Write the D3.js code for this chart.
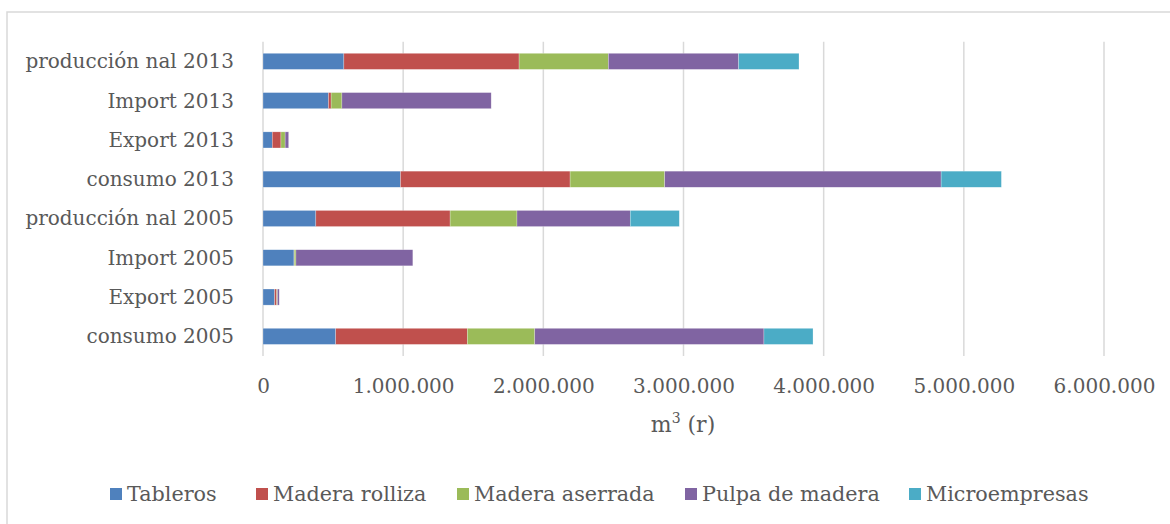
<!DOCTYPE html>
<html><head><meta charset="utf-8">
<script src="https://cdn.jsdelivr.net/npm/d3@7"></script>
<style>html,body{margin:0;padding:0;background:#fff;}svg{display:block;}</style>
</head><body>
<script>
const categories = ["producción nal 2013","Import 2013","Export 2013","consumo 2013","producción nal 2005","Import 2005","Export 2005","consumo 2005"];
const seriesNames = ["Tableros","Madera rolliza","Madera aserrada","Pulpa de madera","Microempresas"];
const tableros      = [577000, 467000, 66000, 981000, 377000, 221000, 83000, 519000];
const maderaRolliza = [1250000, 19000, 62000, 1210000, 958000, 2000, 15000, 939000];
const maderaAserrada= [637000, 77000, 30000, 675000, 477000, 12000, 5000, 481000];
const pulpaMadera   = [929000, 1065000, 25000, 1972000, 808000, 834000, 13000, 1635000];
const microempresas = [431000, 0, 0, 430000, 350000, 0, 0, 350000];
const xTicks = [0,1000000,2000000,3000000,4000000,5000000,6000000];
const colors = ["#4F81BD","#C0504D","#9BBB59","#8064A2","#4BACC6"];

const W=1170,H=524;
const font = "'DejaVu Serif', serif";
const txt = "#595959";
const svg = d3.select("body").append("svg").attr("width",W).attr("height",H);

svg.append("rect").attr("x",7).attr("y",12).attr("width",W+20).attr("height",H+20)
  .attr("fill","none").attr("stroke","#d9d9d9").attr("stroke-width",1.5);

const x = d3.scaleLinear().domain([0,6000000]).range([263,1104]);
const y = d3.scaleBand().domain(categories).range([41.7,356]).paddingInner(0.59).paddingOuter(0.295);

svg.append("g").selectAll("line").data(xTicks).join("line")
  .attr("x1",d=>x(d)).attr("x2",d=>x(d)).attr("y1",41.7).attr("y2",356)
  .attr("stroke","#d9d9d9").attr("stroke-width",1.5);

const data = categories.map((c,i)=>({cat:c,"Tableros":tableros[i],"Madera rolliza":maderaRolliza[i],"Madera aserrada":maderaAserrada[i],"Pulpa de madera":pulpaMadera[i],"Microempresas":microempresas[i]}));
const stacked = d3.stack().keys(seriesNames)(data);

svg.append("g").selectAll("g").data(stacked).join("g")
  .attr("fill",(d,i)=>colors[i])
  .selectAll("rect").data(d=>d).join("rect")
  .attr("x",d=>x(d[0])).attr("width",d=>Math.max(0,x(d[1])-x(d[0])))
  .attr("y",d=>y(d.data.cat)).attr("height",y.bandwidth())
  .attr("stroke","rgba(255,255,255,0.5)").attr("stroke-width",0.5);

const fs = 20;
svg.append("g").selectAll("text").data(categories).join("text")
  .attr("x",234).attr("y",d=>y(d)+y.bandwidth()/2).attr("dy","0.35em")
  .attr("text-anchor","end").attr("font-family",font).attr("font-size",fs).attr("fill",txt)
  .text(d=>d);

const loc = d3.formatLocale({decimal:",",thousands:".",grouping:[3],currency:["",""]});
const fmt = loc.format(",d");
const xAxis = d3.axisBottom(x).tickValues(xTicks).tickFormat(fmt).tickSize(0).tickPadding(0);
const gx = svg.append("g").attr("transform","translate(0,379)").call(xAxis);
gx.select(".domain").remove();
gx.selectAll("text").attr("font-family",font).attr("font-size",fs).attr("fill",txt);

const t = svg.append("text").attr("x",683).attr("y",432).attr("text-anchor","middle")
  .attr("font-family",font).attr("font-size",fs+2).attr("fill",txt);
t.append("tspan").text("m");
t.append("tspan").attr("dy",-9).attr("font-size",14).text("3");
t.append("tspan").attr("dy",9).text(" (r)");

const legX = [110,256,457,685,909];
const lg = svg.append("g").selectAll("g").data(seriesNames).join("g")
  .attr("transform",(d,i)=>`translate(${legX[i]},0)`);
lg.append("rect").attr("x",0).attr("y",488).attr("width",12).attr("height",12).attr("fill",(d,i)=>colors[i]);
lg.append("text").attr("x",17).attr("y",494).attr("dy","0.35em")
  .attr("font-family",font).attr("font-size",20.7).attr("fill",txt).text(d=>d);
</script>
</body></html>
